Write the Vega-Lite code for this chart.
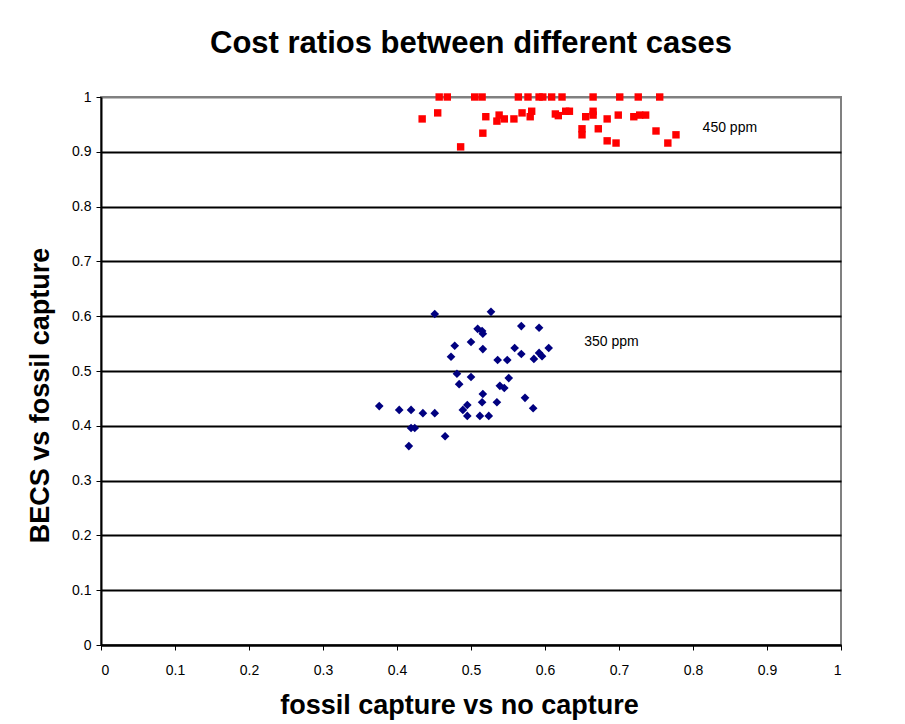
{
  "$schema": "https://vega.github.io/schema/vega-lite/v6.json",
  "width": 740,
  "height": 548,
  "autosize": "none",
  "padding": {"left": 101, "top": 97, "right": 64, "bottom": 79},
  "background": "white",
  "title": {"text": "Cost ratios between different cases", "fontSize": 31, "font": "Liberation Sans", "fontWeight": "bold", "color": "black", "anchor": "middle", "offset": 30},
  "config": {
    "font": "Liberation Sans",
    "view": {"stroke": "#808080", "strokeWidth": 2}
  },
  "datasets": {
    "pts": [
      {"series": "450 ppm", "x": 0.457, "y": 1.0},
      {"series": "450 ppm", "x": 0.468, "y": 1.0},
      {"series": "450 ppm", "x": 0.505, "y": 1.0},
      {"series": "450 ppm", "x": 0.515, "y": 1.0},
      {"series": "450 ppm", "x": 0.564, "y": 1.0},
      {"series": "450 ppm", "x": 0.577, "y": 1.0},
      {"series": "450 ppm", "x": 0.592, "y": 1.0},
      {"series": "450 ppm", "x": 0.597, "y": 1.0},
      {"series": "450 ppm", "x": 0.609, "y": 1.0},
      {"series": "450 ppm", "x": 0.623, "y": 1.0},
      {"series": "450 ppm", "x": 0.665, "y": 1.0},
      {"series": "450 ppm", "x": 0.701, "y": 1.0},
      {"series": "450 ppm", "x": 0.726, "y": 1.0},
      {"series": "450 ppm", "x": 0.755, "y": 1.0},
      {"series": "450 ppm", "x": 0.434, "y": 0.96},
      {"series": "450 ppm", "x": 0.455, "y": 0.971},
      {"series": "450 ppm", "x": 0.52, "y": 0.964},
      {"series": "450 ppm", "x": 0.538, "y": 0.967},
      {"series": "450 ppm", "x": 0.535, "y": 0.956},
      {"series": "450 ppm", "x": 0.545, "y": 0.96},
      {"series": "450 ppm", "x": 0.558, "y": 0.96},
      {"series": "450 ppm", "x": 0.569, "y": 0.971},
      {"series": "450 ppm", "x": 0.582, "y": 0.974},
      {"series": "450 ppm", "x": 0.58, "y": 0.964},
      {"series": "450 ppm", "x": 0.516, "y": 0.934},
      {"series": "450 ppm", "x": 0.486, "y": 0.909},
      {"series": "450 ppm", "x": 0.614, "y": 0.969},
      {"series": "450 ppm", "x": 0.618, "y": 0.966},
      {"series": "450 ppm", "x": 0.628, "y": 0.974},
      {"series": "450 ppm", "x": 0.633, "y": 0.974},
      {"series": "450 ppm", "x": 0.655, "y": 0.964},
      {"series": "450 ppm", "x": 0.665, "y": 0.974},
      {"series": "450 ppm", "x": 0.665, "y": 0.967},
      {"series": "450 ppm", "x": 0.684, "y": 0.96},
      {"series": "450 ppm", "x": 0.699, "y": 0.967},
      {"series": "450 ppm", "x": 0.72, "y": 0.964},
      {"series": "450 ppm", "x": 0.728, "y": 0.967},
      {"series": "450 ppm", "x": 0.736, "y": 0.967},
      {"series": "450 ppm", "x": 0.65, "y": 0.942},
      {"series": "450 ppm", "x": 0.65, "y": 0.931},
      {"series": "450 ppm", "x": 0.672, "y": 0.942},
      {"series": "450 ppm", "x": 0.684, "y": 0.92},
      {"series": "450 ppm", "x": 0.696, "y": 0.916},
      {"series": "450 ppm", "x": 0.75, "y": 0.938},
      {"series": "450 ppm", "x": 0.777, "y": 0.931},
      {"series": "450 ppm", "x": 0.766, "y": 0.916},
      {"series": "350 ppm", "x": 0.451, "y": 0.604},
      {"series": "350 ppm", "x": 0.527, "y": 0.608},
      {"series": "350 ppm", "x": 0.509, "y": 0.577},
      {"series": "350 ppm", "x": 0.515, "y": 0.573},
      {"series": "350 ppm", "x": 0.516, "y": 0.568},
      {"series": "350 ppm", "x": 0.568, "y": 0.582},
      {"series": "350 ppm", "x": 0.592, "y": 0.579},
      {"series": "350 ppm", "x": 0.478, "y": 0.546},
      {"series": "350 ppm", "x": 0.5, "y": 0.553},
      {"series": "350 ppm", "x": 0.516, "y": 0.54},
      {"series": "350 ppm", "x": 0.473, "y": 0.526},
      {"series": "350 ppm", "x": 0.536, "y": 0.52},
      {"series": "350 ppm", "x": 0.549, "y": 0.52},
      {"series": "350 ppm", "x": 0.559, "y": 0.542},
      {"series": "350 ppm", "x": 0.568, "y": 0.531},
      {"series": "350 ppm", "x": 0.605, "y": 0.542},
      {"series": "350 ppm", "x": 0.592, "y": 0.533},
      {"series": "350 ppm", "x": 0.585, "y": 0.522},
      {"series": "350 ppm", "x": 0.596, "y": 0.527},
      {"series": "350 ppm", "x": 0.481, "y": 0.495},
      {"series": "350 ppm", "x": 0.5, "y": 0.489},
      {"series": "350 ppm", "x": 0.484, "y": 0.476},
      {"series": "350 ppm", "x": 0.551, "y": 0.487},
      {"series": "350 ppm", "x": 0.539, "y": 0.473},
      {"series": "350 ppm", "x": 0.545, "y": 0.469},
      {"series": "350 ppm", "x": 0.516, "y": 0.458},
      {"series": "350 ppm", "x": 0.515, "y": 0.443},
      {"series": "350 ppm", "x": 0.535, "y": 0.443},
      {"series": "350 ppm", "x": 0.495, "y": 0.438},
      {"series": "350 ppm", "x": 0.489, "y": 0.429},
      {"series": "350 ppm", "x": 0.573, "y": 0.451},
      {"series": "350 ppm", "x": 0.584, "y": 0.432},
      {"series": "350 ppm", "x": 0.495, "y": 0.418},
      {"series": "350 ppm", "x": 0.512, "y": 0.418},
      {"series": "350 ppm", "x": 0.524, "y": 0.418},
      {"series": "350 ppm", "x": 0.376, "y": 0.436},
      {"series": "350 ppm", "x": 0.403, "y": 0.429},
      {"series": "350 ppm", "x": 0.419, "y": 0.429},
      {"series": "350 ppm", "x": 0.435, "y": 0.423},
      {"series": "350 ppm", "x": 0.451, "y": 0.423},
      {"series": "350 ppm", "x": 0.419, "y": 0.396},
      {"series": "350 ppm", "x": 0.424, "y": 0.396},
      {"series": "350 ppm", "x": 0.465, "y": 0.381},
      {"series": "350 ppm", "x": 0.416, "y": 0.363}
    ],
    "labels": [
      {"label": "450 ppm", "x": 0.813, "y": 0.944},
      {"label": "350 ppm", "x": 0.653, "y": 0.553}
    ]
  },
  "layer": [
    {
      "data": {"name": "pts"},
      "mark": {"type": "point", "filled": true, "opacity": 1},
      "encoding": {
        "x": {
          "field": "x", "type": "quantitative",
          "scale": {"domain": [0, 1], "nice": false, "zero": true},
          "axis": {
            "values": [0, 0.1, 0.2, 0.3, 0.4, 0.5, 0.6, 0.7, 0.8, 0.9, 1],
            "format": "~g",
            "grid": false,
            "domainColor": "black", "domainWidth": 2,
            "tickColor": "black", "tickSize": 5, "tickWidth": 1,
            "labelFontSize": 14, "labelColor": "black", "labelPadding": 13, "labelFont": "Liberation Sans",
            "title": "fossil capture vs no capture",
            "titleFontSize": 27, "titleFontWeight": "bold", "titleColor": "black", "titleFont": "Liberation Sans",
            "titleBaseline": "middle", "titleY": 60, "titleX": 358, "titleAlign": "center", "titleAnchor": "start"
          }
        },
        "y": {
          "field": "y", "type": "quantitative",
          "scale": {"domain": [0, 1], "nice": false, "zero": true},
          "axis": {
            "values": [0, 0.1, 0.2, 0.3, 0.4, 0.5, 0.6, 0.7, 0.8, 0.9, 1],
            "format": "~g",
            "grid": true,
            "gridColor": {"condition": {"test": "datum.value === 1", "value": "#808080"}, "value": "black"},
            "gridWidth": 2,
            "domainColor": "black", "domainWidth": 2,
            "tickColor": "black", "tickSize": 5, "tickWidth": 1,
            "labelFontSize": 14, "labelColor": "black", "labelPadding": 5, "labelFont": "Liberation Sans",
            "title": "BECS vs fossil capture",
            "titleFontSize": 27, "titleFontWeight": "bold", "titleColor": "black", "titleFont": "Liberation Sans",
            "titleX": -61, "titleY": 298, "titleAngle": 270, "titleBaseline": "middle"
          }
        },
        "shape": {
          "field": "series", "type": "nominal",
          "scale": {"domain": ["450 ppm", "350 ppm"], "range": ["square", "diamond"]},
          "legend": null
        },
        "color": {
          "field": "series", "type": "nominal",
          "scale": {"domain": ["450 ppm", "350 ppm"], "range": ["#ff0000", "#000080"]},
          "legend": null
        },
        "size": {
          "field": "series", "type": "nominal",
          "scale": {"domain": ["450 ppm", "350 ppm"], "range": [55, 75]},
          "legend": null
        }
      }
    },
    {
      "data": {"name": "labels"},
      "mark": {"type": "text", "align": "left", "baseline": "middle", "fontSize": 14, "font": "Liberation Sans", "color": "black"},
      "encoding": {
        "x": {"field": "x", "type": "quantitative"},
        "y": {"field": "y", "type": "quantitative"},
        "text": {"field": "label"}
      }
    }
  ]
}
